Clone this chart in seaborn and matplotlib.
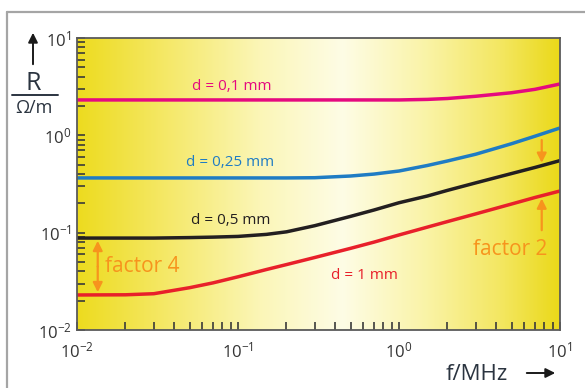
import numpy as np
import pandas as pd
import matplotlib
matplotlib.use("Agg")
import matplotlib.pyplot as plt
import seaborn as sns
from matplotlib import ticker
from matplotlib.lines import Line2D
from matplotlib.patches import FancyArrowPatch
from matplotlib.colors import LinearSegmentedColormap

# Resistance per metre of round copper wires versus frequency (skin effect)
freq_mhz = [0.01, 0.02, 0.03, 0.05, 0.07, 0.1, 0.15, 0.2, 0.3, 0.5, 0.7, 1, 1.5, 2, 3, 5, 7, 10]
r_d010 = [2.31, 2.31, 2.31, 2.31, 2.31, 2.31, 2.31, 2.31, 2.31, 2.31, 2.31, 2.31, 2.34,
          2.39, 2.52, 2.74, 2.97, 3.37]
r_d025 = [0.365, 0.365, 0.365, 0.365, 0.365, 0.365, 0.365, 0.365, 0.367, 0.382, 0.40, 0.43,
          0.49, 0.545, 0.64, 0.82, 0.98, 1.19]
r_d050 = [0.088, 0.088, 0.088, 0.089, 0.090, 0.0915, 0.096, 0.102, 0.118, 0.147, 0.171, 0.203,
          0.238, 0.272, 0.325, 0.405, 0.468, 0.55]
r_d100 = [0.0229, 0.0230, 0.0236, 0.0272, 0.0305, 0.0352, 0.0418, 0.0470, 0.0556, 0.0690,
          0.0800, 0.0947, 0.114, 0.130, 0.156, 0.197, 0.230, 0.268]

series_labels = ["d = 0,1 mm", "d = 0,25 mm", "d = 0,5 mm", "d = 1 mm"]
series_values = [r_d010, r_d025, r_d050, r_d100]
series_colors = ["#e5097f", "#1f7cc4", "#231f20", "#e8202a"]
annot_text = ["factor 4", "factor 2"]

df = pd.concat(
    [pd.DataFrame({"f": freq_mhz, "R": vals, "d": lab})
     for lab, vals in zip(series_labels, series_values)],
    ignore_index=True,
)

sns.set_theme(style="white")
plt.rcParams["font.family"] = ["Open Sans", "DejaVu Sans"]
plt.rcParams["mathtext.fontset"] = "custom"
plt.rcParams["mathtext.rm"] = "Open Sans"

W, H = 585, 388
fig = plt.figure(figsize=(W / 100, H / 100), dpi=100)
fig.patch.set_facecolor("white")

pos = [77 / W, 1 - 330 / H, 483 / W, 292 / H]

# background: horizontal yellow gradient, brightest near the middle
bg = fig.add_axes(pos, zorder=0)
cmap = LinearSegmentedColormap.from_list(
    "glow",
    [(0.0, (0.93, 0.86, 0.12)), (0.18, (0.96, 0.91, 0.40)),
     (0.38, (0.985, 0.965, 0.72)), (0.55, (0.995, 0.99, 0.90)),
     (0.72, (0.98, 0.955, 0.66)), (0.88, (0.955, 0.905, 0.38)),
     (1.0, (0.92, 0.85, 0.10))])
bg.imshow(np.linspace(0, 1, 512)[None, :], cmap=cmap, aspect="auto",
          extent=[0, 1, 0, 1], interpolation="bicubic")
bg.set_axis_off()

ax = fig.add_axes(pos, zorder=1)
ax.patch.set_alpha(0)
ax.set_xscale("log")
ax.set_yscale("log")

sns.lineplot(data=df, x="f", y="R", hue="d", palette=dict(zip(series_labels, series_colors)),
             linewidth=2.5, legend=False, ax=ax, estimator=None, sort=False)
for ln in ax.get_lines():
    ln.set_solid_joinstyle("round")
    ln.set_solid_capstyle("butt")

ax.set_xlim(1e-2, 1e1)
ax.set_ylim(1e-2, 1e1)
ax.set_xlabel("")
ax.set_ylabel("")

for s in ax.spines.values():
    s.set_color("#5a5a5a")
    s.set_linewidth(1.3)

ax.xaxis.set_major_locator(ticker.LogLocator(base=10, numticks=10))
ax.yaxis.set_major_locator(ticker.LogLocator(base=10, numticks=10))
ax.xaxis.set_minor_locator(ticker.LogLocator(base=10, subs=np.arange(2, 10), numticks=10))
ax.yaxis.set_minor_locator(ticker.LogLocator(base=10, subs=np.arange(2, 10), numticks=10))
ax.xaxis.set_minor_formatter(ticker.NullFormatter())
ax.yaxis.set_minor_formatter(ticker.NullFormatter())
ax.tick_params(which="both", direction="in", length=6, width=1.2, color="#3a3a3a",
               top=False, right=False, bottom=True, left=True)
ax.tick_params(which="major", labelsize=12, labelcolor="#333333")
ax.tick_params(axis="x", which="major", pad=8)
ax.tick_params(axis="y", which="major", pad=4)

# curve labels
label_pos = [(0.0518, 3.2), (0.0475, 0.52), (0.051, 0.132), (0.378, 0.0367)]
for lab, col, (x, y) in zip(series_labels, series_colors, label_pos):
    ax.text(x, y, lab, color=col, fontsize=11, ha="left", va="center")

orange = "#f7941d"
aprops = dict(arrowstyle="-|>", color=orange, lw=1.6, mutation_scale=14,
              shrinkA=0, shrinkB=2)

# factor 4 between the 0.5 mm and 1 mm curves at the low-frequency end
fx = 0.01345
mid = np.sqrt(r_d100[0] * r_d050[0])
ax.annotate("", xy=(fx, r_d100[0]), xytext=(fx, mid), arrowprops=aprops)
ax.annotate("", xy=(fx, r_d050[0]), xytext=(fx, mid), arrowprops=aprops)
ax.text(0.0149, 0.0444, annot_text[0], color=orange, fontsize=15, ha="left", va="center")

# factor 2 at the high-frequency end
fx2 = 7.7
lf = np.log10(freq_mhz)
top_at = 10 ** np.interp(np.log10(fx2), lf, np.log10(r_d050))
bot_at = 10 ** np.interp(np.log10(fx2), lf, np.log10(r_d100))
ax.annotate("", xy=(fx2, top_at), xytext=(fx2, 0.895), arrowprops=aprops)
ax.annotate("", xy=(fx2, bot_at), xytext=(fx2, 0.106), arrowprops=aprops)
ax.text(8.3, 0.0664, annot_text[1], color=orange, fontsize=15, ha="right", va="center")

# axis titles
lab_col = "#2b3440"
fig.text(33 / W, 1 - 83 / H, "R", fontsize=18, color=lab_col, ha="center", va="center")
fig.add_artist(Line2D([12 / W, 58 / W], [1 - 95 / H, 1 - 95 / H], transform=fig.transFigure,
                      color=lab_col, lw=1.4))
fig.text(34 / W, 1 - 108 / H, "Ω/m", fontsize=13, color=lab_col, ha="center", va="center")
fig.add_artist(FancyArrowPatch(
    (33 / W, 1 - 67 / H), (33 / W, 1 - 30 / H), transform=fig.transFigure,
    arrowstyle="-|>", mutation_scale=14, color="#1a1a1a", lw=1.4))

fig.text(477 / W, 1 - 375 / H, "f/MHz", fontsize=16, color=lab_col, ha="center", va="center")
fig.add_artist(FancyArrowPatch(
    (524 / W, 1 - 373 / H), (558 / W, 1 - 373 / H), transform=fig.transFigure,
    arrowstyle="-|>", mutation_scale=14, color="#1a1a1a", lw=1.4))

# outer frame
frame_col = "#a5a5a5"
fig.add_artist(Line2D([7 / W, 7 / W], [0, 1 - 12 / H], transform=fig.transFigure,
                      color=frame_col, lw=1.6))
fig.add_artist(Line2D([7 / W, 1], [1 - 12 / H, 1 - 12 / H], transform=fig.transFigure,
                      color=frame_col, lw=1.6))

fig.savefig("out.png", dpi=100)
